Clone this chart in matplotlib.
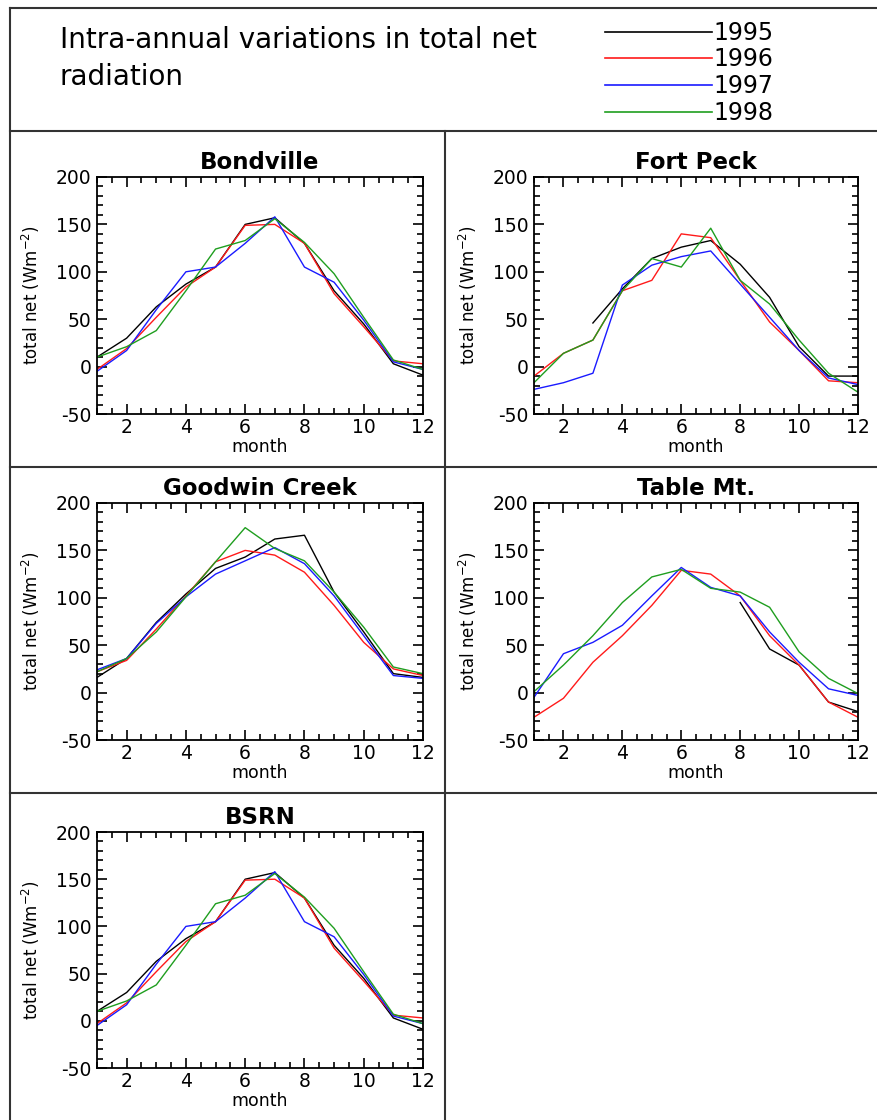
import numpy as np
import matplotlib
matplotlib.use("Agg")
import matplotlib.pyplot as plt
from matplotlib.lines import Line2D
from matplotlib.ticker import MultipleLocator

plt.rcParams['font.family'] = ['DejaVu Sans']
plt.rcParams['axes.unicode_minus'] = False

nan = np.nan
months = np.arange(1, 13)
years = ['1995', '1996', '1997', '1998']
colors = ['#000000', '#ff1a1a', '#1a1aff', '#1f9e1f']

# monthly total net radiation (W m-2)
bondville = [
    [10, 30, 63, 87, 105, 150, 157, 130, 80, 45, 3, -9],
    [-3, 19, 52, 84, 105, 149, 150, 130, 77, 42, 6, 3],
    [-5, 17, 60, 100, 105, 130, 158, 105, 89, 49, 5, -3],
    [10, 21, 38, 80, 124, 133, 156, 131, 98, 52, 7, -3],
]
fort_peck = [
    [nan, nan, 46, 82, 114, 126, 133, 108, 73, 21, -10, -10],
    [-10, 14, 28, 80, 91, 140, 136, 91, 47, 17, -15, -17],
    [-24, -17, -7, 86, 107, 116, 122, 87, 52, 17, -12, -19],
    [-17, 14, 28, 80, 114, 105, 146, 91, 66, 28, -7, -27],
]
goodwin_creek = [
    [16, 36, 74, 104, 131, 143, 162, 166, 106, 64, 20, 16],
    [22, 34, 67, 102, 138, 150, 145, 127, 92, 53, 25, 18],
    [24, 36, 73, 101, 125, 139, 153, 136, 102, 60, 18, 15],
    [22, 36, 64, 101, 138, 174, 152, 139, 106, 69, 27, 20],
]
table_mt = [
    [nan, nan, nan, nan, nan, nan, nan, 95, 46, 29, -10, -20],
    [-26, -6, 32, 60, 92, 129, 125, 102, 60, 29, -10, -26],
    [-5, 41, 53, 71, 102, 132, 111, 102, 64, 32, 4, -3],
    [1, 29, 60, 95, 122, 130, 110, 106, 90, 43, 15, -1],
]
bsrn = bondville

stations = ['Bondville', 'Fort Peck', 'Goodwin Creek', 'Table Mt.', 'BSRN']
station_data = [bondville, fort_peck, goodwin_creek, table_mt, bsrn]

W, H = 878, 1120
fig = plt.figure(figsize=(W / 100, H / 100), dpi=100)


def fx(px):
    return px / W


def fy(py):
    return 1 - py / H


# panel boxes in pixels: left, top, right, bottom of the axes
col_x = [(97, 423), (534, 858)]
row_y = [(177, 414), (503, 740), (832, 1068)]

for i, (name, data) in enumerate(zip(stations, station_data)):
    r, c = divmod(i, 2)
    x0, x1 = col_x[c]
    y0, y1 = row_y[r]
    ax = fig.add_axes([fx(x0), fy(y1), fx(x1 - x0), (y1 - y0) / H])
    for vals, col in zip(data, colors):
        ax.plot(months, vals, color=col, lw=1.0)
    ax.set_xlim(1, 12)
    ax.set_ylim(-50, 200)
    ax.xaxis.set_major_locator(MultipleLocator(2))
    ax.xaxis.set_minor_locator(MultipleLocator(0.5))
    ax.yaxis.set_major_locator(MultipleLocator(50))
    ax.yaxis.set_minor_locator(MultipleLocator(10))
    ax.tick_params(which='both', direction='in', top=True, right=True,
                   labelsize=13.5, width=1.2)
    ax.tick_params(which='major', length=7)
    ax.tick_params(which='minor', length=4)
    ax.tick_params(axis='x', pad=3)
    ax.tick_params(axis='y', pad=4)
    for s in ax.spines.values():
        s.set_linewidth(1.3)
    ax.set_title(name, fontsize=16.5, fontweight='bold', pad=6)
    ax.set_xlabel('month', fontsize=12.5)
    ax.xaxis.set_label_coords(0.5, -0.1)
    ax.set_ylabel('total net (Wm$^{-2}$)', fontsize=12)
    ax.yaxis.set_label_coords(-0.17, 0.5)

# frame lines of the original layout
frame = [
    ((10, 878), (8, 8)),
    ((10, 10), (8, 1120)),
    ((10, 878), (131, 131)),
    ((445, 445), (131, 1120)),
    ((10, 878), (467, 467)),
    ((10, 878), (793, 793)),
]
for (xa, xb), (ya, yb) in frame:
    fig.add_artist(Line2D([fx(xa), fx(xb)], [fy(ya), fy(yb)],
                          color='#333333', lw=1.5))

fig.text(fx(60), fy(40), 'Intra-annual variations in total net',
         fontsize=20, va='center', ha='left')
fig.text(fx(60), fy(77), 'radiation', fontsize=20, va='center', ha='left')

# legend drawn as in the original header
leg_y = [32, 58, 85, 112]
for yr, col, ly in zip(years, colors, leg_y):
    fig.add_artist(Line2D([fx(605), fx(712)], [fy(ly), fy(ly)], color=col, lw=1.2))
    fig.text(fx(713), fy(ly + 1), yr, fontsize=17, va='center', ha='left')

fig.savefig('out.png', dpi=100)
